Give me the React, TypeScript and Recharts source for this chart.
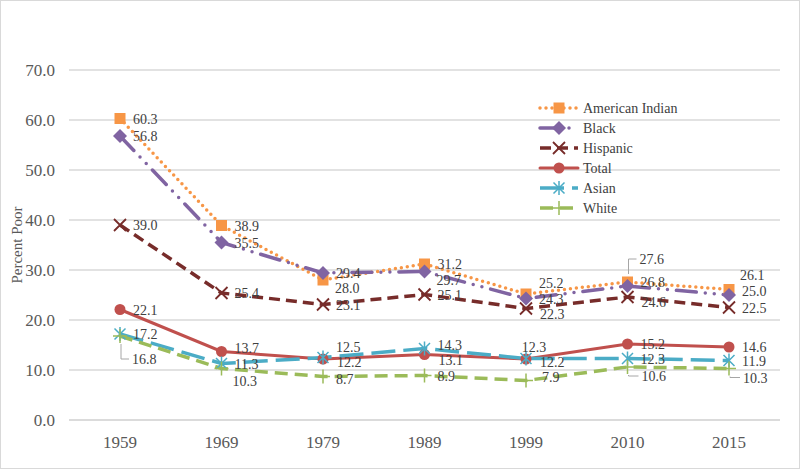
import { CartesianGrid, LabelList, Line, LineChart, XAxis, YAxis } from 'recharts'

const years = ['1959', '1969', '1979', '1989', '1999', '2010', '2015']
const americanIndian = [60.3, 38.9, 28.0, 31.2, 25.2, 27.6, 26.1]
const black = [56.8, 35.5, 29.4, 29.7, 24.3, 26.8, 25.0]
const hispanic = [39.0, 25.4, 23.1, 25.1, 22.3, 24.6, 22.5]
const total = [22.1, 13.7, 12.2, 13.1, 12.2, 15.2, 14.6]
const asian = [17.2, 11.3, 12.5, 14.3, 12.3, 12.3, 11.9]
const white = [16.8, 10.3, 8.7, 8.9, 7.9, 10.6, 10.3]
const yTicks = [0, 10, 20, 30, 40, 50, 60, 70]

const data = years.map((year, i) => ({
  year,
  americanIndian: americanIndian[i],
  black: black[i],
  hispanic: hispanic[i],
  total: total[i],
  asian: asian[i],
  white: white[i],
}))

// where each data label sits relative to its point
const placeAmInd = ['r', 'r', 'rd', 'r', 'ru', 'au', 'ru2']
const placeBlack = ['r', 'r', 'r', 'rd', 'r', 'r0', 'r0']
const placeHisp = ['r', 'r', 'r', 'r', 'rd1', 'rd1', 'r']
const placeTotal = ['r', 'r0', 'rd2', 'rd1', 'rd2', 'r', 'r']
const placeAsian = ['r', 'r', 'ru', 'r0', 'a', 'r', 'r']
const placeWhite = ['rdd', 'b', 'rw2', 'r', 'rw', 'rdl', 'rdl']

const offsets: Record<string, [number, number]> = {
  r: [13, 5],
  r0: [13, 1],
  rw: [16, 1],
  rw2: [13, 7],
  ru: [13, -6],
  ru2: [11, -10],
  rd: [12, 13],
  rd1: [14, 10],
  rd2: [14, 8],
  rdd: [12, 28],
  rdl: [14, 14],
  au: [12, -18],
  a: [8, -7],
  b: [11, 17],
}

const FONT = "'Liberation Serif', 'DejaVu Serif', serif"

function makeLabel(places: string[]) {
  return (props: any) => {
    const { x, y, value, index } = props
    const p = places[index]
    const [dx, dy] = offsets[p]
    let leader = null
    if (p === 'rdd' || p === 'rdl') {
      const ly = y + dy - 5
      leader = <polyline points={`${x + 1},${y + 8} ${x + 1},${ly} ${x + dx - 3},${ly}`} fill="none" stroke="#A6A6A6" strokeWidth={1} />
    } else if (p === 'au') {
      const ly = y + dy - 5
      leader = <polyline points={`${x + 1},${y - 8} ${x + 1},${ly} ${x + dx - 3},${ly}`} fill="none" stroke="#A6A6A6" strokeWidth={1} />
    }
    return (
      <g>
        {leader}
        <text
          x={x + dx}
          y={y + dy}
          textAnchor={p === 'a' ? 'middle' : 'start'}
          style={{ fontSize: 14, fontFamily: FONT }}
          fill="#404040"
        >
          {Number(value).toFixed(1)}
        </text>
      </g>
    )
  }
}

function Square({ cx, cy }: any) {
  if (cx == null) return null
  return <rect x={cx - 5.5} y={cy - 5.5} width={11} height={11} fill="#F79646" />
}
function Diamond({ cx, cy }: any) {
  if (cx == null) return null
  return <polygon points={`${cx},${cy - 7} ${cx + 7},${cy} ${cx},${cy + 7} ${cx - 7},${cy}`} fill="#8064A2" />
}
function Cross({ cx, cy }: any) {
  if (cx == null) return null
  return <path d={`M${cx - 6},${cy - 6}L${cx + 6},${cy + 6}M${cx - 6},${cy + 6}L${cx + 6},${cy - 6}`} stroke="#772C2A" strokeWidth={1.8} />
}
function Circle({ cx, cy }: any) {
  if (cx == null) return null
  return <circle cx={cx} cy={cy} r={5.5} fill="#C0504D" />
}
function Star({ cx, cy }: any) {
  if (cx == null) return null
  return (
    <path
      d={`M${cx - 5.5},${cy - 5.5}L${cx + 5.5},${cy + 5.5}M${cx - 5.5},${cy + 5.5}L${cx + 5.5},${cy - 5.5}M${cx},${cy - 7}L${cx},${cy + 7}`}
      stroke="#4BACC6"
      strokeWidth={1.5}
    />
  )
}
function Plus({ cx, cy }: any) {
  if (cx == null) return null
  return <path d={`M${cx - 7},${cy}L${cx + 7},${cy}M${cx},${cy - 7}L${cx},${cy + 7}`} stroke="#9BBB59" strokeWidth={1.5} />
}

const series = [
  { key: 'americanIndian', name: 'American Indian', color: '#F79646', dash: '0 6', cap: 'round', width: 3.5, Dot: Square, places: placeAmInd },
  { key: 'black', name: 'Black', color: '#8064A2', dash: '20 9 0 9 0 9', cap: 'round', width: 3.5, Dot: Diamond, places: placeBlack },
  { key: 'hispanic', name: 'Hispanic', color: '#772C2A', dash: '11 6', cap: 'butt', width: 3.5, Dot: Cross, places: placeHisp },
  { key: 'total', name: 'Total', color: '#C0504D', dash: undefined, cap: 'round', width: 3, Dot: Circle, places: placeTotal },
  { key: 'asian', name: 'Asian', color: '#4BACC6', dash: '24 8', cap: 'butt', width: 3.5, Dot: Star, places: placeAsian },
  { key: 'white', name: 'White', color: '#9BBB59', dash: '13 7', cap: 'butt', width: 3.5, Dot: Plus, places: placeWhite },
]

function LegendBox() {
  return (
    <svg width={160} height={125} style={{ position: 'absolute', left: 533, top: 97 }}>
      {series.map((s, i) => {
        const y = 10 + i * 20
        const Dot = s.Dot
        return (
          <g key={s.key}>
            <line x1={6} x2={44} y1={y} y2={y} stroke={s.color} strokeWidth={s.width} strokeDasharray={s.dash} strokeLinecap={s.cap as any} />
            <Dot cx={25} cy={y} />
            <text x={49} y={y + 5} style={{ fontSize: 14, fontFamily: FONT }} fill="#404040">
              {s.name}
            </text>
          </g>
        )
      })}
    </svg>
  )
}

export default function App() {
  return (
    <div
      style={{
        position: 'absolute',
        left: 0,
        top: 0,
        width: 800,
        height: 469,
        border: '1px solid #D9D9D9',
        boxSizing: 'border-box',
        background: '#fff',
      }}
    >
      <LineChart width={798} height={467} data={data} margin={{ top: 69, right: 19, bottom: 18, left: 8 }}>
        <CartesianGrid vertical={false} stroke="#D9D9D9" strokeWidth={1.5} />
        <XAxis
          dataKey="year"
          padding={{ left: 51, right: 51 }}
          axisLine={{ stroke: '#D9D9D9', strokeWidth: 1.5 }}
          tickLine={false}
          tickSize={0}
          tickMargin={16}
          height={30}
          tick={{ fontSize: 17, fontFamily: FONT, fill: '#595959' }}
        />
        <YAxis
          domain={[0, 70]}
          ticks={yTicks}
          width={60}
          axisLine={false}
          tickLine={false}
          tickSize={0}
          tickMargin={14}
          tickFormatter={(v: number) => v.toFixed(1)}
          tick={{ fontSize: 17, fontFamily: FONT, fill: '#595959' }}
          label={{
            value: 'Percent Poor',
            angle: -90,
            position: 'insideLeft',
            offset: 8,
            style: { fontSize: 15, fontFamily: FONT, fill: '#595959', textAnchor: 'middle' },
          }}
        />
        {series.map((s) => {
          const Dot = s.Dot
          return (
            <Line
              key={s.key}
              dataKey={s.key}
              name={s.name}
              stroke={s.color}
              strokeWidth={s.width}
              strokeDasharray={s.dash}
              strokeLinecap={s.cap as any}
              dot={(p: any) => <Dot key={`${s.key}-${p.index}`} cx={p.cx} cy={p.cy} />}
              activeDot={false}
              isAnimationActive={false}
            >
              <LabelList dataKey={s.key} content={makeLabel(s.places)} />
            </Line>
          )
        })}
      </LineChart>
      <LegendBox />
    </div>
  )
}
